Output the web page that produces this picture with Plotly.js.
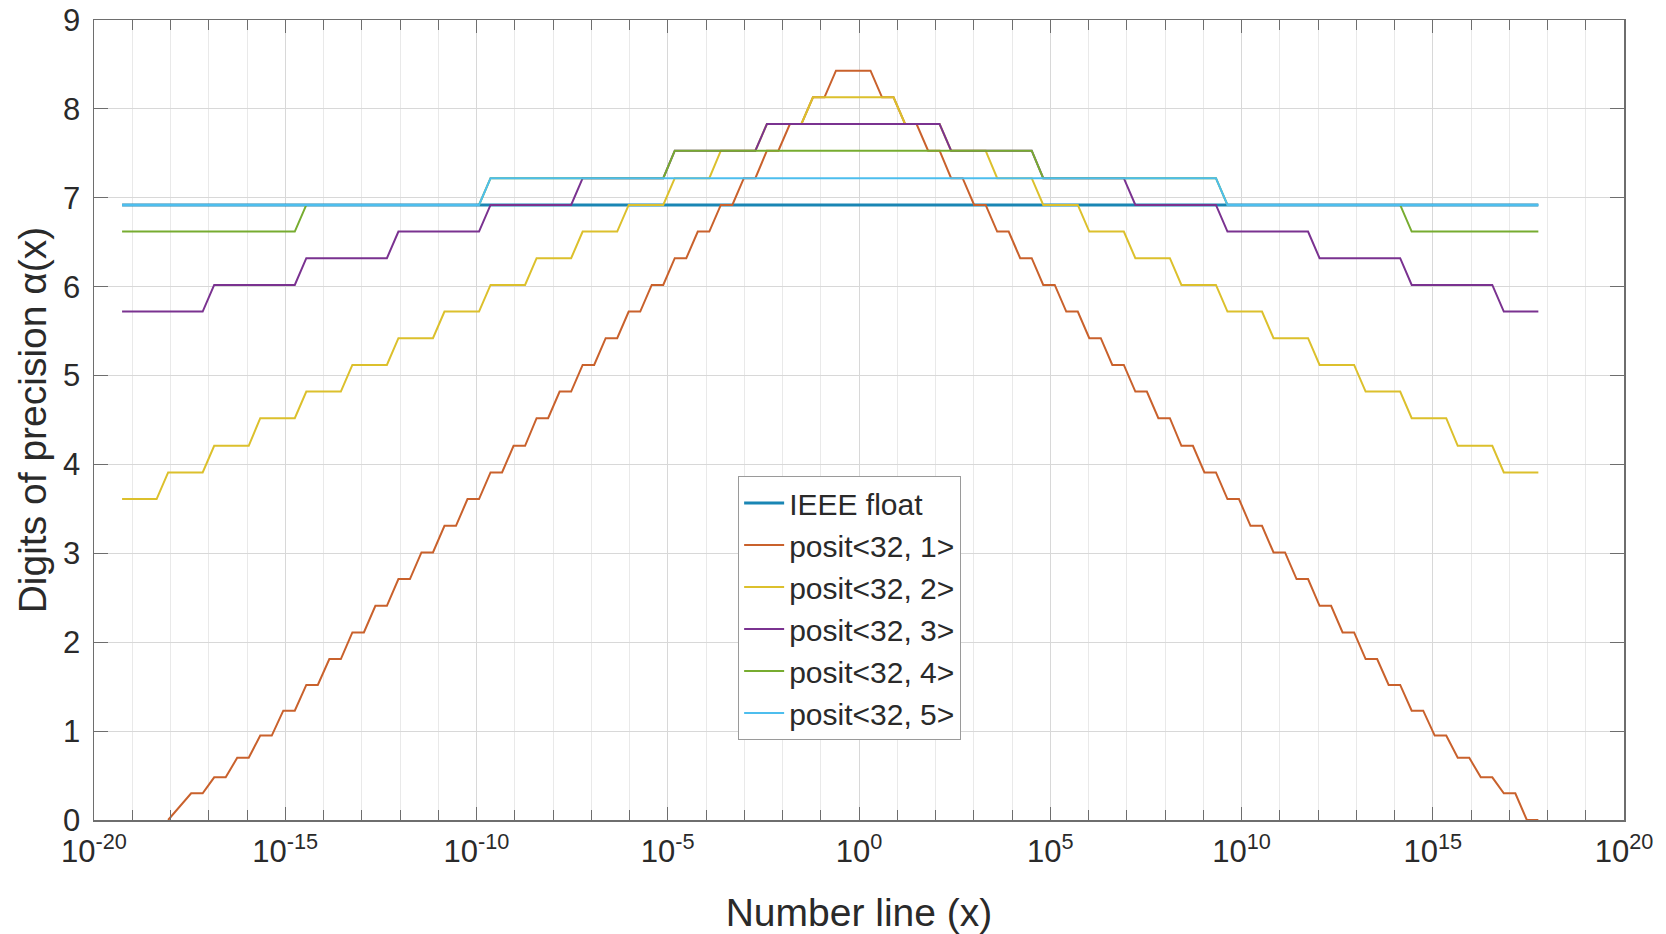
<!DOCTYPE html>
<html>
<head>
<meta charset="utf-8">
<script src="https://cdn.plot.ly/plotly-3.0.1.min.js"></script>
<style>
  html, body { margin: 0; padding: 0; background: #ffffff; }
  #chart { width: 1666px; height: 934px; }
</style>
</head>
<body>
<div id="chart"></div>
<script>
// Each format is sampled at x = 2^e for these exponents.
const sampleExponents = [
  -64,-63,-62,-61,-60,-59,-58,-57,-56,-55,-54,-53,-52,-51,-50,-49,
  -48,-47,-46,-45,-44,-43,-42,-41,-40,-39,-38,-37,-36,-35,-34,-33,
  -32,-31,-30,-29,-28,-27,-26,-25,-24,-23,-22,-21,-20,-19,-18,-17,
  -16,-15,-14,-13,-12,-11,-10,-9,-8,-7,-6,-5,-4,-3,-2,-1,
  0,1,2,3,4,5,6,7,8,9,10,11,12,13,14,15,
  16,17,18,19,20,21,22,23,24,25,26,27,28,29,30,31,
  32,33,34,35,36,37,38,39,40,41,42,43,44,45,46,47,
  48,49,50,51,52,53,54,55,56,57,58,59
];

// Precision levels (decimal digits) and how many consecutive samples hold each level.
// null = outside the representable range (nothing drawn).
const ieeeLevels = [6.92];
const ieeeRuns   = [124];

const posit1Levels = [
  null, 0, 0.15, 0.30, 0.48, 0.70, 0.95, 1.23, 1.52, 1.81, 2.11, 2.41, 2.71, 3.01, 3.31, 3.61,
  3.91, 4.21, 4.52, 4.82, 5.12, 5.42, 5.72, 6.02, 6.32, 6.62, 6.92, 7.22, 7.53, 7.83, 8.13,
  8.43,
  8.13, 7.83, 7.53, 7.22, 6.92, 6.62, 6.32, 6.02, 5.72, 5.42, 5.12, 4.82, 4.52, 4.21, 3.91,
  3.61, 3.31, 3.01, 2.71, 2.41, 2.11, 1.81, 1.52, 1.23, 0.95, 0.70, 0.48, 0.30, 0, null
];
const posit1Runs = [
  4, 1, 1, 2, 2, 2, 2, 2, 2, 2, 2, 2, 2, 2, 2, 2,
  2, 2, 2, 2, 2, 2, 2, 2, 2, 2, 2, 2, 2, 2, 2,
  4,
  2, 2, 2, 2, 2, 2, 2, 2, 2, 2, 2, 2, 2, 2, 2,
  2, 2, 2, 2, 2, 2, 2, 2, 2, 2, 2, 2, 2, 2, 1, 1
];

const posit2Levels = [
  3.61, 3.91, 4.21, 4.52, 4.82, 5.12, 5.42, 5.72, 6.02, 6.32, 6.62, 6.92, 7.22, 7.53, 7.83,
  8.13,
  7.83, 7.53, 7.22, 6.92, 6.62, 6.32, 6.02, 5.72, 5.42, 5.12, 4.82, 4.52, 4.21, 3.91
];
const posit2Runs = [
  4, 4, 4, 4, 4, 4, 4, 4, 4, 4, 4, 4, 4, 4, 4,
  8,
  4, 4, 4, 4, 4, 4, 4, 4, 4, 4, 4, 4, 4, 4
];

const posit3Levels = [5.72, 6.02, 6.32, 6.62, 6.92, 7.22, 7.53, 7.83, 7.53, 7.22, 6.92, 6.62, 6.32, 6.02, 5.72];
const posit3Runs   = [8, 8, 8, 8, 8, 8, 8, 16, 8, 8, 8, 8, 8, 8, 4];

const posit4Levels = [6.62, 6.92, 7.22, 7.53, 7.22, 6.92, 6.62];
const posit4Runs   = [16, 16, 16, 32, 16, 16, 12];

const posit5Levels = [6.92, 7.22, 6.92];
const posit5Runs   = [32, 64, 28];

const seriesNames = ['IEEE float', 'posit<32, 1>', 'posit<32, 2>', 'posit<32, 3>', 'posit<32, 4>', 'posit<32, 5>'];

const majorTickExponents = [-20, -15, -10, -5, 0, 5, 10, 15, 20];
const yTicks = [0, 1, 2, 3, 4, 5, 6, 7, 8, 9];

// ---- build traces -------------------------------------------------------
function expandRuns(levels, runs) {
  const out = [];
  levels.forEach((v, i) => { for (let j = 0; j < runs[i]; j++) out.push(v); });
  return out;
}

const xValues = sampleExponents.map(e => Math.pow(2, e));

const seriesData = [
  [ieeeLevels, ieeeRuns],
  [posit1Levels, posit1Runs],
  [posit2Levels, posit2Runs],
  [posit3Levels, posit3Runs],
  [posit4Levels, posit4Runs],
  [posit5Levels, posit5Runs]
];
const colors = ['#1a86b4', '#c9612c', '#dcc02c', '#7a3290', '#77ac30', '#4dbeee'];
const widths = [3, 2, 2, 2, 2, 2];

const traces = seriesData.map((d, i) => ({
  type: 'scatter',
  mode: 'lines',
  name: seriesNames[i],
  x: xValues,
  y: expandRuns(d[0], d[1]),
  connectgaps: false,
  line: { color: colors[i], width: widths[i] },
  hoverinfo: 'x+y+name'
}));

const majorVals = majorTickExponents.map(e => Math.pow(10, e));
const majorText = majorTickExponents.map(e => '10<sup>' + e + '</sup>');
const minorVals = [];
for (let e = -19; e <= 19; e++) if (e % 5 !== 0) minorVals.push(Math.pow(10, e));

const axisColor = '#6e6e6e';
const textColor = '#2a2a2a';
const gridMajor = '#d8d8d8';
const gridMinor = '#e9e9e9';
const fontFamily = '"Liberation Sans", Arial, Helvetica, sans-serif';

const layout = {
  width: 1666,
  height: 934,
  paper_bgcolor: '#ffffff',
  plot_bgcolor: '#ffffff',
  margin: { l: 94, r: 42, t: 20, b: 114 },
  font: { family: fontFamily, color: textColor },
  showlegend: true,
  legend: {
    x: 0.421, y: 0.43, xanchor: 'left', yanchor: 'top',
    bgcolor: '#ffffff', bordercolor: '#9a9a9a', borderwidth: 1,
    font: { size: 30, color: textColor, family: fontFamily },
    itemwidth: 40,
    tracegroupgap: 0
  },
  xaxis: {
    type: 'log',
    range: [-20, 20],
    tickmode: 'array',
    tickvals: majorVals,
    ticktext: majorText,
    ticks: 'inside',
    ticklen: 13,
    tickwidth: 1,
    tickcolor: axisColor,
    showline: true,
    linecolor: axisColor,
    linewidth: 1.5,
    mirror: 'ticks',
    showgrid: true,
    gridcolor: gridMajor,
    gridwidth: 1,
    zeroline: false,
    ticklabelstandoff: 3,
    tickfont: { size: 31, color: textColor },
    minor: {
      tickmode: 'array',
      tickvals: minorVals,
      ticks: 'inside',
      ticklen: 10,
      tickcolor: axisColor,
      showgrid: true,
      gridcolor: gridMinor
    },
    title: { text: 'Number line (x)', font: { size: 39, color: textColor }, standoff: 34 }
  },
  yaxis: {
    range: [0, 9],
    tickmode: 'array',
    tickvals: yTicks,
    ticks: 'inside',
    ticklen: 14,
    tickwidth: 1,
    tickcolor: axisColor,
    showline: true,
    linecolor: axisColor,
    linewidth: 1.5,
    mirror: 'ticks',
    showgrid: true,
    gridcolor: gridMajor,
    zeroline: false,
    ticklabelstandoff: 6,
    tickfont: { size: 31, color: textColor },
    title: { text: 'Digits of precision α(x)', font: { size: 39, color: textColor }, standoff: 4 }
  }
};

Plotly.newPlot('chart', traces, layout, { displayModeBar: false, staticPlot: true });
</script>
</body>
</html>
